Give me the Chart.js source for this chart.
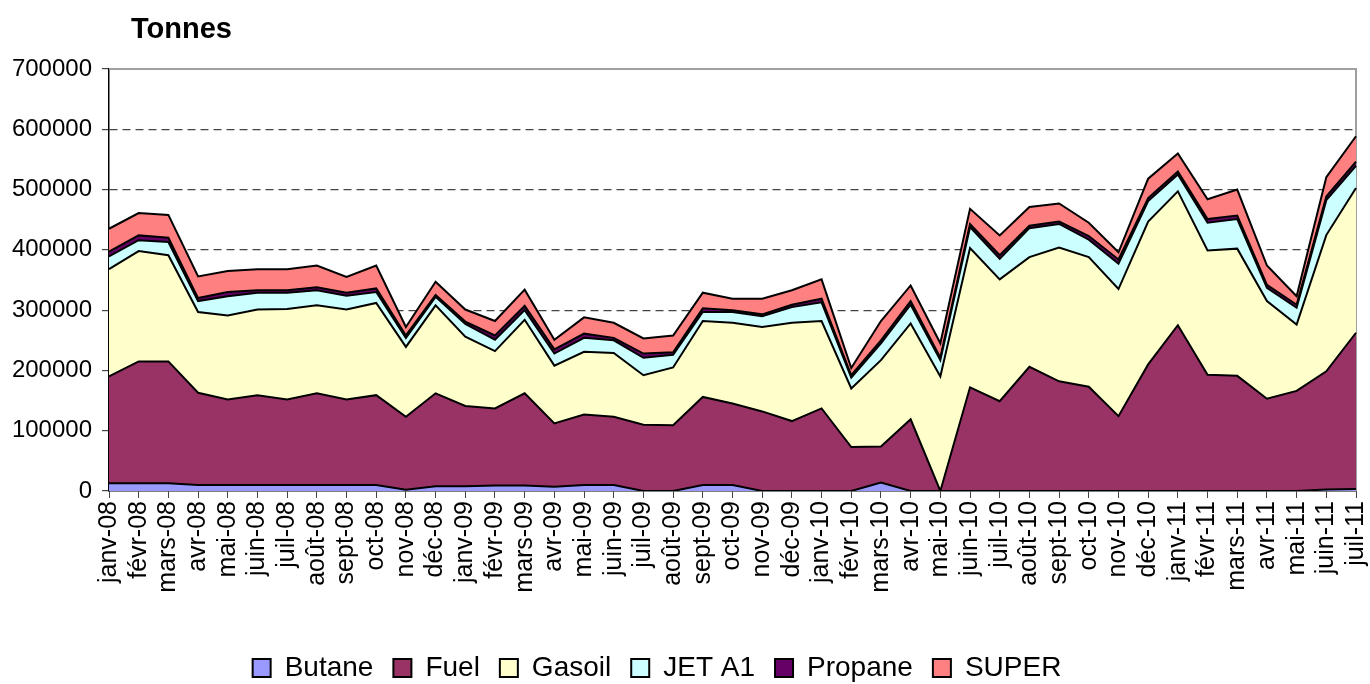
<!DOCTYPE html>
<html lang="fr">
<head>
<meta charset="UTF-8">
<title>Tonnes</title>
<script src="https://cdn.jsdelivr.net/npm/chart.js"></script>
<style>
  body { margin: 0; background: #fff; }
  #wrap { position: relative; width: 1370px; height: 684px; }
  #titre {
    position: absolute; left: 131px; top: 12px;
    font-family: "Liberation Sans", Arial, sans-serif;
    font-weight: bold; font-size: 29px; color: #000;
  }
</style>
</head>
<body>
<div id="wrap">
  <canvas id="graphique" width="1370" height="684"></canvas>
  <div id="titre">Tonnes</div>
</div>

<script>
const mois = ["janv-08","févr-08","mars-08","avr-08","mai-08","juin-08","juil-08","août-08","sept-08","oct-08","nov-08","déc-08",
  "janv-09","févr-09","mars-09","avr-09","mai-09","juin-09","juil-09","août-09","sept-09","oct-09","nov-09","déc-09",
  "janv-10","févr-10","mars-10","avr-10","mai-10","juin-10","juil-10","août-10","sept-10","oct-10","nov-10","déc-10",
  "janv-11","févr-11","mars-11","avr-11","mai-11","juin-11","juil-11"];

const butane = [13000,13000,13000,10000,10000,10000,10000,10000,10000,10000,2000,8000,
  8000,9000,9000,7000,10000,10000,0,0,10000,10000,0,0,
  0,0,14000,0,0,0,0,0,0,0,0,0,
  0,0,0,0,0,2500,3500];
const fuel = [177000,202000,202000,153000,142000,149000,142000,152000,142000,149000,121000,154000,
  133000,128000,153000,105000,117000,113000,110000,109000,146000,135000,132000,116000,
  137000,73000,60000,119000,0,172000,149000,206000,182000,173000,124000,210000,
  275000,193000,191000,153000,166000,196000,259000];
const gasoil = [178000,183000,176000,134000,139000,142000,150000,146000,149000,153000,116000,146000,
  115000,95000,122000,96000,104000,106000,82000,96000,126000,134000,140000,163000,
  145000,97000,143000,159000,190000,231000,202000,182000,222000,215000,211000,237000,
  222000,206000,211000,162000,110000,226000,240000];
const jetA1 = [21000,18000,22000,18000,32000,28000,27000,25000,23000,18000,15000,14000,
  21000,19000,16000,20000,23000,21000,29000,21000,15000,18000,18000,26000,
  31000,18000,28000,31000,27000,35000,34000,48000,39000,29000,42000,34000,
  28000,46000,49000,22000,28000,58000,37000];
const propane = [8000,8000,7000,5000,7000,4000,4000,5000,5000,6000,4000,3000,
  4000,7000,7000,7000,7000,4000,7000,4000,6000,3000,3000,4000,
  6000,4000,5000,6000,4000,5000,6000,4000,4000,6000,7000,5000,
  5000,6000,6000,5000,5000,6000,7000];
const superCarb = [38000,37000,38000,36000,35000,35000,35000,36000,26000,38000,14000,22000,
  20000,24000,27000,16000,27000,25000,25000,28000,26000,19000,26000,24000,
  32000,12000,32000,26000,24000,25000,33000,31000,30000,22000,12000,32000,
  30000,33000,43000,32000,14000,32000,42000];

const police = "'Liberation Sans', Arial, sans-serif";

function serie(nom, valeurs, couleur, remplissage) {
  return {
    label: nom,
    data: valeurs,
    backgroundColor: couleur,
    borderColor: '#000',
    borderWidth: 2,
    fill: remplissage,
    pointRadius: 0,
    tension: 0
  };
}

// cadre gris haut/droite de la zone de tracé + légende décalée vers la gauche
const cadre = {
  id: 'cadre',
  afterLayout(chart) {
    chart.legend.left -= 21;
    chart.legend.right -= 21;
  },
  beforeDatasetsDraw(chart) {
    const a = chart.chartArea, c = chart.ctx;
    c.save();
    c.strokeStyle = '#a0a0a0';
    c.lineWidth = 2;
    c.beginPath();
    c.moveTo(a.left, a.top);
    c.lineTo(a.right, a.top);
    c.lineTo(a.right, a.bottom);
    c.stroke();
    c.restore();
  }
};

new Chart(document.getElementById('graphique'), {
  type: 'line',
  data: {
    labels: mois,
    datasets: [
      serie('Butane', butane, '#9999FF', 'origin'),
      serie('Fuel', fuel, '#993366', '-1'),
      serie('Gasoil', gasoil, '#FFFFCC', '-1'),
      serie('JET A1', jetA1, '#CCFFFF', '-1'),
      serie('Propane', propane, '#660066', '-1'),
      serie('SUPER', superCarb, '#FF8080', '-1')
    ]
  },
  plugins: [cadre],
  options: {
    responsive: false,
    animation: false,
    layout: { padding: { top: 69, left: 0, right: 14, bottom: -8 } },
    plugins: {
      legend: {
        position: 'bottom',
        labels: {
          color: '#000',
          font: { family: police, size: 28 },
          boxWidth: 18,
          boxHeight: 18,
          padding: 20
        }
      },
      tooltip: { enabled: false }
    },
    scales: {
      x: {
        offset: false,
        grid: { drawOnChartArea: false, tickLength: 7, color: '#444' },
        border: { color: '#000', width: 1.5 },
        ticks: {
          color: '#000',
          font: { family: police, size: 25 },
          minRotation: 90, maxRotation: 90,
          autoSkip: false,
          padding: 3
        },
        afterFit(s) { s.height = 143; s.paddingLeft = 0; s.paddingRight = 0; }
      },
      y: {
        stacked: true,
        min: 0, max: 700000,
        grid: {
          color: c => (c.tick.value === 0 || c.tick.value === 700000) ? 'rgba(0,0,0,0)' : '#444',
          tickColor: '#444',
          tickLength: 7,
          lineWidth: 1.2
        },
        border: { color: '#000', width: 1.5, dash: [8, 5] },
        ticks: {
          stepSize: 100000,
          color: '#000',
          font: { family: police, size: 24 },
          padding: 10,
          callback: v => String(v)
        },
        afterFit(s) { s.width = 109; }
      }
    }
  }
});
</script>
</body>
</html>
